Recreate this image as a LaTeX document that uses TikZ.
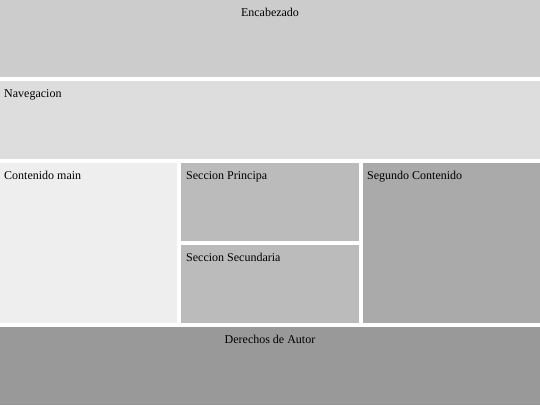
\documentclass[tikz,border=0pt]{standalone}
\usepackage{fontspec}
\setmainfont{Liberation Serif}
\definecolor{cabeza}{HTML}{CCCCCC}
\definecolor{navega}{HTML}{DDDDDD}
\definecolor{conmain}{HTML}{EEEEEE}
\definecolor{seccion}{HTML}{BBBBBB}
\definecolor{segundo}{HTML}{AAAAAA}
\definecolor{derechos}{HTML}{999999}
\newcommand{\tx}{\fontsize{12}{14}\selectfont}

\begin{document}
\begin{tikzpicture}[x=1pt,y=-1pt,
    rotulo/.style={inner sep=0pt,anchor=base west,font=\tx},
    rotuloc/.style={inner sep=0pt,anchor=base,font=\tx}]
     \useasboundingbox (0,0) rectangle (540,405);
     \fill[cabeza]   (0,0)     rectangle (540,77);
     \fill[navega]   (0,81)    rectangle (540,159);
     \fill[conmain]  (0,163)   rectangle (177,323);
     \fill[seccion]  (181,163) rectangle (359,241);
     \fill[seccion]  (181,245) rectangle (359,323);
     \fill[segundo]  (363,163) rectangle (540,323);
     \fill[derechos] (0,327)   rectangle (540,405);
     \node[rotuloc] (encab)  at (270,16)  {Encabezado};
     \node[rotulo]  (naveg)  at (4,97)    {Navegacion};
     \node[rotulo]  (cmain)  at (4,179)   {Contenido main};
     \node[rotulo]  (secp)   at (186,179) {Seccion Principa};
     \node[rotulo]  (secs)   at (186,261) {Seccion Secundaria};
     \node[rotulo]  (segc)   at (367,179) {Segundo Contenido};
     \node[rotuloc] (autor)  at (270,343) {Derechos de Autor};
    \end{tikzpicture}
\end{document}
